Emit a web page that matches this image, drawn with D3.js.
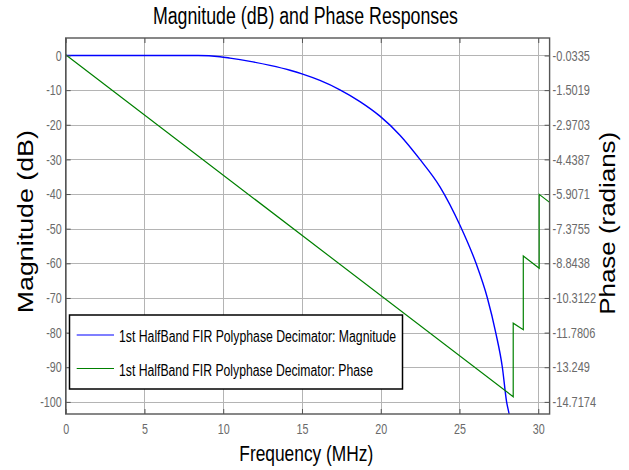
<!DOCTYPE html>
<html>
<head>
<meta charset="utf-8">
<script src="https://cdn.jsdelivr.net/npm/d3@7/dist/d3.min.js"></script>
<style>
  html, body { margin: 0; padding: 0; background: #fff; }
  svg { display: block; font-family: "Liberation Sans", Arial, Helvetica, sans-serif; }
</style>
</head>
<body>
<svg id="chart" width="629" height="470"></svg>
<script>
// Axis ticks
const freqTicks = [0, 5, 10, 15, 20, 25, 30];
const magTicks = [0, -10, -20, -30, -40, -50, -60, -70, -80, -90, -100];
const phaseTicks = [-0.0335, -1.5019, -2.9703, -4.4387, -5.9071, -7.3755, -8.8438,
                    -10.3122, -11.7806, -13.249, -14.7174];

// Magnitude response (dB) vs frequency (MHz)
const magFreq = [0, 8.4, 9.8, 10.43, 11.7, 12.97, 14.24, 15.0, 16.14, 17.41, 18.68, 19.95,
                 21.22, 22.49, 23.76, 25.03, 26.05, 26.77, 27.3, 27.72, 27.99, 28.15, 28.3];
const magDb = [0, 0, -0.35, -0.75, -1.7, -2.85, -4.25, -5.3, -7.2, -9.9, -13.3, -17.5,
               -23.0, -30.0, -37.9, -49.0, -60, -70, -80, -90, -100, -103.5, -108];

// Phase response (radians) vs frequency (MHz)
const phaseFreq = [0, 28.41, 28.41, 29.05, 29.05, 30.06, 30.06, 30.72];
const phaseRad = [0, -14.50, -11.38, -11.66, -8.53, -9.05, -5.92, -6.26];

const seriesNames = ["1st HalfBand FIR Polyphase Decimator: Magnitude",
                     "1st HalfBand FIR Polyphase Decimator: Phase"];
const seriesColors = ["#0000ff", "#008000"];

const svg = d3.select("#chart");
const plot = { left: 65.7, right: 549.6, top: 38, bottom: 414 };

const x = d3.scaleLinear().domain([0, 30.72]).range([plot.left, plot.right]);
const yL = d3.scaleLinear().domain([-103.5, 5.05]).range([plot.bottom, plot.top]);
const yR = d3.scaleLinear()
  .domain([phaseTicks[phaseTicks.length - 1], phaseTicks[0]])
  .range([yL(-100), yL(0)]);

const tickColor = "#6a6a6a";
const frameColor = "#555";

function squeeze(sel, factor) {
  sel.each(function () {
    const L = this.getComputedTextLength();
    d3.select(this).attr("textLength", L * factor).attr("lengthAdjust", "spacingAndGlyphs");
  });
}

// Grid
const grid = svg.append("g").attr("stroke", "#b4b4b4").attr("stroke-width", 1);
grid.selectAll("line.h").data(magTicks).join("line")
  .attr("x1", plot.left).attr("x2", plot.right)
  .attr("y1", d => Math.round(yL(d)) + 0.5).attr("y2", d => Math.round(yL(d)) + 0.5);
grid.selectAll("line.v").data(freqTicks).join("line")
  .attr("y1", plot.top).attr("y2", plot.bottom)
  .attr("x1", d => Math.round(x(d)) + 0.5).attr("x2", d => Math.round(x(d)) + 0.5);

// Clip for curves
svg.append("clipPath").attr("id", "clip").append("rect")
  .attr("x", plot.left).attr("y", plot.top)
  .attr("width", plot.right - plot.left).attr("height", plot.bottom - plot.top);

const curves = svg.append("g").attr("clip-path", "url(#clip)").attr("fill", "none");
curves.append("path")
  .datum(magFreq.map((f, i) => [f, magDb[i]]))
  .attr("stroke", seriesColors[0]).attr("stroke-width", 1.4)
  .attr("d", d3.line().x(d => x(d[0])).y(d => yL(d[1])).curve(d3.curveMonotoneX));
curves.append("path")
  .datum(phaseFreq.map((f, i) => [f, phaseRad[i]]))
  .attr("stroke", seriesColors[1]).attr("stroke-width", 1.2)
  .attr("d", d3.line().x(d => x(d[0])).y(d => yR(d[1])));

// Axes (ticks point inward)
const axisL = svg.append("g").attr("transform", `translate(${plot.left},0)`)
  .call(d3.axisLeft(yL).tickValues(magTicks).tickSize(-5).tickSizeOuter(0).tickPadding(4)
    .tickFormat(d => String(d)));
const axisB = svg.append("g").attr("transform", `translate(0,${plot.bottom})`)
  .call(d3.axisBottom(x).tickValues(freqTicks).tickSize(-5).tickSizeOuter(0).tickPadding(10)
    .tickFormat(d => String(d)));
const axisT = svg.append("g").attr("transform", `translate(0,${plot.top})`)
  .call(d3.axisTop(x).tickValues(freqTicks).tickSize(-5).tickSizeOuter(0).tickFormat(""));
const axisR = svg.append("g").attr("transform", `translate(${plot.right},0)`)
  .call(d3.axisRight(yR).tickValues(phaseTicks).tickSize(-5).tickSizeOuter(0).tickPadding(3)
    .tickFormat(d => String(d)));

[axisL, axisB, axisT, axisR].forEach(a => {
  a.select(".domain").remove();
  a.selectAll(".tick line").attr("stroke", frameColor);
  a.selectAll("text").attr("fill", tickColor).style("font-size", "14.5px")
    .style("font-family", '"Liberation Sans", Arial, sans-serif');
});
squeeze(axisL.selectAll("text"), 0.74);
squeeze(axisB.selectAll("text"), 0.74);
squeeze(axisR.selectAll("text"), 0.76);

// Frame
svg.append("rect")
  .attr("x", plot.left).attr("y", plot.top)
  .attr("width", plot.right - plot.left).attr("height", plot.bottom - plot.top)
  .attr("fill", "none").attr("stroke", frameColor).attr("stroke-width", 1.4);

// Legend
const lg = svg.append("g");
lg.append("rect").attr("x", 69.5).attr("y", 315).attr("width", 333).attr("height", 74)
  .attr("fill", "#fff").attr("stroke", "#000").attr("stroke-width", 1.5);
const legendRows = [{ y: 335, base: 341.5, w: 277 }, { y: 368.5, base: 376, w: 254 }];
legendRows.forEach((r, i) => {
  lg.append("line").attr("x1", 76.7).attr("x2", 114).attr("y1", r.y).attr("y2", r.y)
    .attr("stroke", seriesColors[i]).attr("stroke-width", 1.2);
  lg.append("text").attr("x", 119).attr("y", r.base)
    .attr("font-size", 16).attr("fill", "#000")
    .attr("textLength", r.w).attr("lengthAdjust", "spacingAndGlyphs")
    .text(seriesNames[i]);
});

// Title and axis labels
svg.append("text").attr("x", 305.4).attr("y", 24).attr("text-anchor", "middle")
  .attr("font-size", 23).attr("fill", "#000")
  .attr("textLength", 305).attr("lengthAdjust", "spacingAndGlyphs")
  .text("Magnitude (dB) and Phase Responses");
svg.append("text").attr("x", 306.3).attr("y", 460.5).attr("text-anchor", "middle")
  .attr("font-size", 21.5).attr("fill", "#000")
  .attr("textLength", 134).attr("lengthAdjust", "spacingAndGlyphs")
  .text("Frequency (MHz)");
svg.append("text").attr("transform", "translate(32.5,221.7) rotate(-90)")
  .attr("text-anchor", "middle").attr("font-size", 21.8).attr("fill", "#000")
  .attr("textLength", 183).attr("lengthAdjust", "spacingAndGlyphs")
  .text("Magnitude (dB)");
svg.append("text").attr("transform", "translate(614.5,223.3) rotate(-90)")
  .attr("text-anchor", "middle").attr("font-size", 22).attr("fill", "#000")
  .attr("textLength", 183).attr("lengthAdjust", "spacingAndGlyphs")
  .text("Phase (radians)");
</script>
</body>
</html>
